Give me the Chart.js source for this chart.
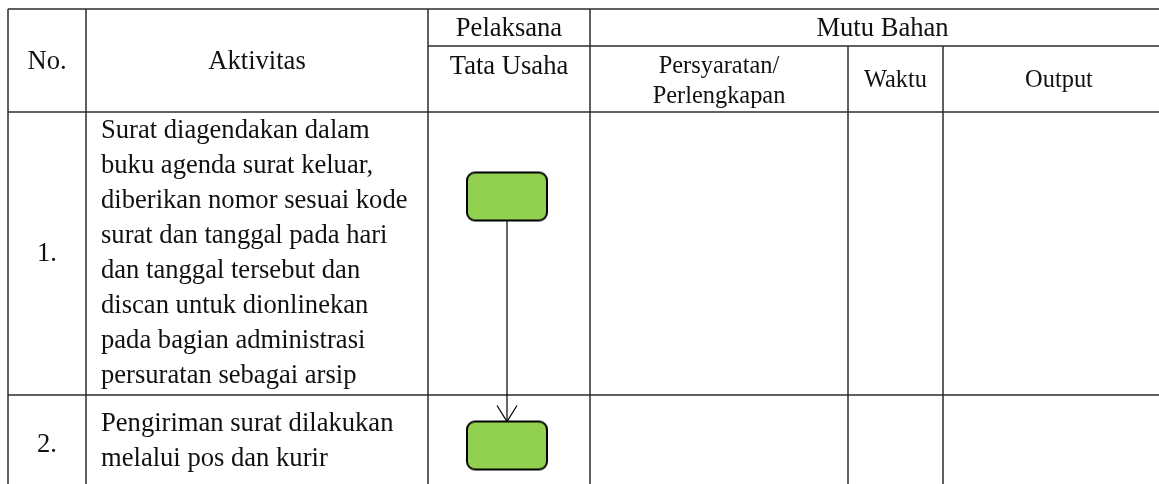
<!DOCTYPE html>
<html>
<head>
<meta charset="utf-8">
<script src="https://cdn.jsdelivr.net/npm/chart.js@4/dist/chart.umd.min.js"></script>
<style>
	html, body { margin: 0; padding: 0; background: #fff; }
	#flow { display: block; }
</style>
</head>
<body>
<canvas id="flow" width="1159" height="484"></canvas>
<script>
// table content
const headerTop = ["No.", "Aktivitas", "Pelaksana", "Mutu Bahan"];
const headerSub = ["Tata Usaha", "Persyaratan/\nPerlengkapan", "Waktu", "Output"];
const stepNo = ["1.", "2."];
const activityLines = [
	["Surat diagendakan dalam", "buku agenda surat keluar,", "diberikan nomor sesuai kode",
	 "surat dan tanggal pada hari", "dan tanggal tersebut dan", "discan untuk dionlinekan",
	 "pada bagian administrasi", "persuratan sebagai arsip"],
	["Pengiriman surat dilakukan", "melalui pos dan kurir"]
];
const stepActor = ["Tata Usaha", "Tata Usaha"];

// layout (page units, mapped through the chart scales)
const layout = {
	width: 1159,
	height: 484,
	colX: [8, 86, 428, 590, 848, 943, 1175],
	rowY: [9, 46, 112, 395, 495],
	boxY: [196.5, 445.5],
	boxW: 80,
	boxH: 48,
	laneX: 507,
	textLeft: 101,
	lineStep: 35,
	firstLine: [131, 424],
	numY: [254, 445],
	textShift: 2,
	bigFont: 26.6,
	smallFont: 24.4
};

function laneCenter(actor){
	// only one lane in this table: Tata Usaha
	return actor == headerSub[0] ? layout.laneX : layout.laneX;
}

function makeBoxStyle(){
	var w = layout.boxW, h = layout.boxH, r = 8;
	var c = document.createElement("canvas");
	c.width = w + 4;
	c.height = h + 4;
	var g = c.getContext("2d");
	var x = 2, y = 2;
	g.beginPath();
	g.moveTo(x + r, y);
	g.arcTo(x + w, y, x + w, y + h, r);
	g.arcTo(x + w, y + h, x, y + h, r);
	g.arcTo(x, y + h, x, y, r);
	g.arcTo(x, y, x + w, y, r);
	g.closePath();
	g.fillStyle = "#92d050";
	g.fill();
	g.lineWidth = 2;
	g.strokeStyle = "#000";
	g.stroke();
	return c;
}

var boxPoints = stepActor.map(function(a, i){
	return {x: laneCenter(a), y: layout.boxY[i]};
});
var connector = [
	{x: boxPoints[0].x, y: boxPoints[0].y + layout.boxH / 2},
	{x: boxPoints[1].x, y: boxPoints[1].y - layout.boxH / 2}
];

var tablePlugin = {
	id: "table",
	beforeDatasetsDraw: function(chart){
		var ctx = chart.ctx, xs = chart.scales.x, ys = chart.scales.y;
		var X = function(v){ return xs.getPixelForValue(v); };
		var Y = function(v){ return ys.getPixelForValue(v); };
		var c = layout.colX, r = layout.rowY;
		var big = layout.bigFont, small = layout.smallFont;
		ctx.save();
		ctx.strokeStyle = "#2b2b2b";
		ctx.lineWidth = 1.5;
		function seg(x1, y1, x2, y2){
			ctx.beginPath();
			ctx.moveTo(X(x1), Y(y1));
			ctx.lineTo(X(x2), Y(y2));
			ctx.stroke();
		}
		seg(c[0], r[0], c[6], r[0]);
		seg(c[2], r[1], c[6], r[1]);
		seg(c[0], r[2], c[6], r[2]);
		seg(c[0], r[3], c[6], r[3]);
		[0, 1, 2, 3].forEach(function(i){ seg(c[i], r[0], c[i], r[4]); });
		[4, 5].forEach(function(i){ seg(c[i], r[1], c[i], r[4]); });

		ctx.fillStyle = "#111";
		ctx.textBaseline = "middle";
		function text(s, x, y, size, align){
			ctx.font = size + "px 'Liberation Serif', 'Times New Roman', serif";
			ctx.textAlign = align || "center";
			ctx.fillText(s, X(x), Y(y));
		}
		var mid = function(a, b){ return (a + b) / 2; };
		var sh = layout.textShift;
		// header
		text(headerTop[0], mid(c[0], c[1]), mid(r[0], r[2]) + sh, big);
		text(headerTop[1], mid(c[1], c[2]), mid(r[0], r[2]) + sh, big);
		text(headerTop[2], mid(c[2], c[3]), mid(r[0], r[1]) + sh, big);
		text(headerTop[3], mid(c[3], c[6]), mid(r[0], r[1]) + sh, big);
		text(headerSub[0], mid(c[2], c[3]), r[1] + 19 + sh, big);
		headerSub[1].split("\n").forEach(function(s, i){
			text(s, mid(c[3], c[4]), r[1] + 19 + sh + i * 30, small);
		});
		text(headerSub[2], mid(c[4], c[5]), mid(r[1], r[2]) + sh, small);
		text(headerSub[3], mid(c[5], c[6]), mid(r[1], r[2]) + sh, small);
		// rows
		stepNo.forEach(function(n, i){
			text(n, mid(c[0], c[1]), layout.numY[i], big);
			activityLines[i].forEach(function(s, k){
				text(s, layout.textLeft, layout.firstLine[i] + k * layout.lineStep, big, "left");
			});
		});
		ctx.restore();
	},
	afterDatasetsDraw: function(chart){
		var ctx = chart.ctx, xs = chart.scales.x, ys = chart.scales.y;
		var tip = connector[1];
		var tx = xs.getPixelForValue(tip.x), ty = ys.getPixelForValue(tip.y);
		ctx.save();
		ctx.strokeStyle = "#000";
		ctx.lineWidth = 1.2;
		ctx.beginPath();
		ctx.moveTo(tx - 10, ty - 16);
		ctx.lineTo(tx, ty);
		ctx.lineTo(tx + 10, ty - 16);
		ctx.stroke();
		ctx.restore();
	}
};

var chart = new Chart(document.getElementById("flow").getContext("2d"), {
	type: "scatter",
	data: {
		datasets: [
			{
				type: "line",
				data: connector,
				borderColor: "#000",
				borderWidth: 1.2,
				pointRadius: 0,
				fill: false,
				clip: false,
				order: 2
			},
			{
				type: "scatter",
				data: boxPoints,
				pointStyle: makeBoxStyle(),
				pointRadius: 24,
				clip: false,
				order: 1
			}
		]
	},
	options: {
		responsive: false,
		maintainAspectRatio: false,
		animation: false,
		events: [],
		layout: { padding: 0, autoPadding: false },
		plugins: { legend: { display: false }, tooltip: { enabled: false } },
		scales: {
			x: { type: "linear", display: false, min: 0, max: layout.width },
			y: { type: "linear", display: false, min: 0, max: layout.height, reverse: true }
		}
	},
	plugins: [tablePlugin]
});
</script>
</body>
</html>
